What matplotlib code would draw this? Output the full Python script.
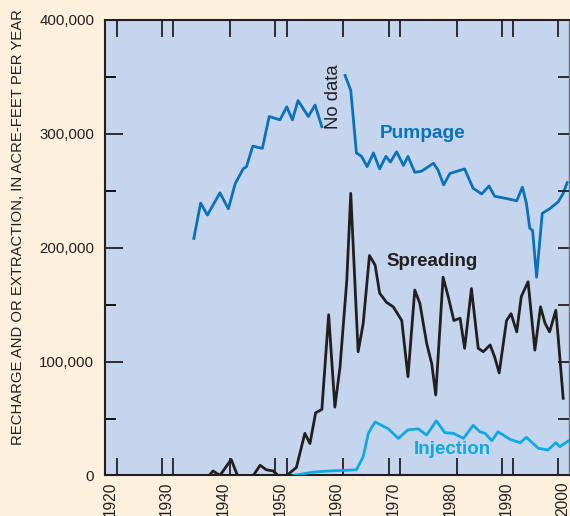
import numpy as np
import matplotlib.pyplot as plt
from matplotlib.ticker import FixedLocator, NullFormatter

# pumpage, with the "No data" gap between the two pieces
pump_years = [1934.8, 1936.0, 1937.2, 1939.4, 1940.9, 1942.1, 1943.5, 1944.1,
              1945.2, 1946.9, 1948.1, 1950.0, 1951.2, 1952.2, 1953.2, 1955.0,
              1956.2, 1957.4, np.nan,
              1961.5, 1962.5, 1963.5, 1964.4, 1965.4, 1966.5, 1967.6, 1968.7,
              1969.5, 1970.6, 1971.8, 1972.6, 1973.8, 1975.0, 1977.1, 1977.9,
              1978.9, 1980.0, 1982.6, 1984.1, 1985.6, 1986.9, 1987.9, 1990.0,
              1991.8, 1992.8, 1993.5, 1994.1, 1994.6, 1995.3, 1996.3, 1997.6,
              1999.1, 2000.0, 2000.7]
pump_vals = [208, 239, 228.5, 248, 234, 256, 269, 271,
             289, 287, 315, 312, 323.5, 312, 329, 315,
             325, 306, np.nan,
             351, 338, 283, 280, 271, 283, 269, 280,
             275, 284, 272, 280, 266, 267, 274, 268,
             255, 265, 269, 252, 247, 254, 245, 243,
             241, 253, 239, 217, 215, 174, 230, 234,
             240, 247.5, 257]

spread_years = [1937.5, 1938.2, 1939.4, 1941.4, 1942.5, 1945.3, 1946.5, 1947.6,
                1948.8, 1949.7, 1951.2, 1952.4, 1952.9, 1954.4, 1955.3, 1956.3,
                1957.4, 1958.6, 1959.7, 1960.6, 1961.8, 1962.5, 1963.8, 1964.7,
                1965.8, 1966.8, 1967.6, 1968.8, 1970.0, 1971.5, 1972.6, 1973.8,
                1974.7, 1975.9, 1976.8, 1977.5, 1978.8, 1979.7, 1980.7, 1981.8,
                1982.6, 1983.8, 1985.0, 1985.9, 1987.1, 1987.9, 1988.7, 1990.0,
                1990.8, 1991.8, 1992.6, 1993.8, 1995.0, 1996.0, 1996.8, 1997.6,
                1998.7, 1999.1, 2000.0]
spread_vals = [0, 4, 0, 14, 0, 0, 9, 5,
               4, 0, 0, 5, 7, 37, 28, 55,
               58, 141, 60, 95, 171, 247.5, 108.6, 133.5,
               193, 184.6, 160, 152, 148, 136, 86.7, 162.7,
               151, 116, 98, 70.6, 174, 157, 136, 138,
               111.6, 164, 111.6, 108.6, 114.5, 104, 90, 136,
               142, 126, 157, 170, 110, 148, 133.5, 126,
               145, 122, 67.7]

inj_years = [1952.4, 1955.9, 1958.8, 1963.5, 1964.7, 1965.6, 1966.8, 1969.1,
             1970.9, 1972.6, 1974.4, 1975.9, 1977.6, 1979.1, 1980.6, 1982.4,
             1984.1, 1985.3, 1986.2, 1987.4, 1988.5, 1990.6, 1992.4, 1993.5,
             1995.6, 1997.3, 1998.7, 1999.4, 2000.9]
inj_vals = [0, 3, 4, 5, 16.5, 37, 47, 41,
            32.6, 40, 41, 35.5, 48, 37.6, 37, 32.6,
            44, 38.4, 37, 30.5, 38.4, 31.7, 28.8, 33.5,
            23.9, 22.4, 28.8, 25.3, 30.3]

decades = list(range(1920, 2001, 10))
x_ticks = [1921.2, 1929.2, 1931.2, 1941.2, 1949.2, 1951.2, 1961.2, 1969.2,
           1971.2, 1981.2, 1989.2, 1991.2, 1999.1]

bg = '#fdf0dd'
plot_bg = '#c6d5ee'
c_pump = '#0a72ba'
c_inj = '#0ea8e2'
c_spread = '#231f20'

plt.rcParams['font.family'] = ['Liberation Sans', 'DejaVu Sans']

fig = plt.figure(figsize=(5.7, 5.16), dpi=100, facecolor=bg)
ax = fig.add_axes([0.185, 0.0785, 0.813, 0.8835])
ax.set_facecolor(plot_bg)

k = 1000
ax.plot(inj_years, np.array(inj_vals) * k, color=c_inj, lw=2.0, zorder=3)
ax.plot(spread_years, np.array(spread_vals) * k, color=c_spread, lw=2.0, zorder=4)
ax.plot(pump_years, np.array(pump_vals) * k, color=c_pump, lw=2.0, zorder=5)

ax.set_xlim(1919.2, 2001.0)
ax.set_ylim(0, 400000)

# y axis
ax.set_yticks(np.arange(0, 400001, 100000))
ax.set_yticklabels(['0', '100,000', '200,000', '300,000', '400,000'])
ax.yaxis.set_minor_locator(FixedLocator(np.arange(50000, 400000, 100000)))
ax.tick_params(axis='y', which='major', direction='in', length=13, width=1.3,
               labelsize=10.8, pad=8, right=False, colors='#231f20')
ax.tick_params(axis='y', which='minor', direction='in', length=8, width=1.3,
               right=False)

# x axis: decade labels with no marks, odd tick marks as minor ticks
ax.set_xticks(decades)
ax.set_xticklabels([str(d) for d in decades], rotation=90)
ax.xaxis.set_minor_locator(FixedLocator(x_ticks))
ax.xaxis.set_minor_formatter(NullFormatter())
ax.tick_params(axis='x', which='major', length=0, labelsize=11.2, pad=4.5,
               colors='#231f20')
ax.tick_params(axis='x', which='minor', direction='in', length=12.5, width=1.3,
               top=True, bottom=True, color='#231f20')

# right side ticks every 50,000
ax2 = ax.twinx()
ax2.set_ylim(0, 400000)
ax2.set_yticks(np.arange(50000, 400000, 50000))
ax2.tick_params(axis='y', direction='in', length=8, width=1.3, labelright=False,
                color='#231f20')
for s in ax2.spines.values():
    s.set_visible(False)

for side in ['left', 'bottom', 'top']:
    ax.spines[side].set_color('#231f20')
    ax.spines[side].set_linewidth(1.5)
ax.spines['right'].set_color('#6b7280')
ax.spines['right'].set_linewidth(1.0)

ylab = fig.text(0.0316, 0.559, 'RECHARGE AND OR EXTRACTION, IN ACRE-FEET PER YEAR',
                rotation=90, ha='center', va='center', fontsize=12,
                color='#231f20')
# squeeze the label to the length it has in the original
r = fig.canvas.get_renderer()
h = ylab.get_window_extent(r).height
ylab.set_fontsize(12 * 435 / h)

ax.text(1975.1, 300500, 'Pumpage', color=c_pump, fontsize=13.8,
        fontweight='bold', ha='center', va='center')
ax.text(1976.8, 187500, 'Spreading', color=c_spread, fontsize=13.5,
        fontweight='bold', ha='center', va='center')
ax.text(1980.4, 22400, 'Injection', color=c_inj, fontsize=13.5,
        fontweight='bold', ha='center', va='center')
ax.text(1959.5, 332000, 'No data', color=c_spread, fontsize=13.3,
        rotation=90, ha='center', va='center')

fig.savefig('out.png', dpi=100, facecolor=bg)
